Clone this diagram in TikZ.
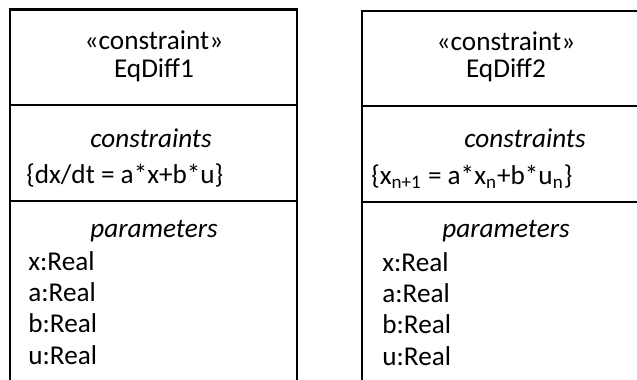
\documentclass[tikz,border=0pt]{standalone}
\usepackage{fontspec}
\setmainfont{Carlito}
\usetikzlibrary{positioning}
\newcommand{\umlfont}{\fontsize{13.6}{15.5}\selectfont}
\tikzset{
    frame/.style={
        draw=black,
        line width=1.1pt
    },
    headtext/.style={
        anchor=base,
        inner sep=0pt,
        font=\umlfont
    },
    comptitle/.style={
        headtext,
        font=\umlfont\itshape
    },
    entry/.style={
        anchor=base west,
        inner sep=0pt,
        font=\umlfont
    }
}

\begin{document}
\begin{tikzpicture}[x=0.5pt, y=-0.5pt]
\useasboundingbox (0,0) rectangle (637,380);

% 1. Left block (open at the bottom)
\draw[frame] (10,380) -- (10,9.5) -- (297,9.5) -- (297,380);
\draw[frame] (10,105) -- (297,105);
\draw[frame] (10,201) -- (297,201);
\node[headtext] (stereoA) at (154,49.5) {«constraint»};
\node[headtext] (nameA) at (154,77) {EqDiff1};
\node[comptitle] (consA) at (151,147) {constraints};
\node[entry] (eqA) at (26,183) {\{dx/dt = a*x+b*u\}};
\node[comptitle] (parA) at (154,237) {parameters};
\node[entry] (xA) at (28,270) {x:Real};
\node[entry] (aA) at (28,301) {a:Real};
\node[entry] (bA) at (28,332.5) {b:Real};
\node[entry] (uA) at (28,364) {u:Real};

% 2. Right block (cut off on the right)
\draw[frame] (362,380) -- (362,10.7) -- (637,10.7);
\draw[frame] (362,106) -- (637,106);
\draw[frame] (362,202) -- (637,202);
\node[headtext] (stereoB) at (506,50) {«constraint»};
\node[headtext] (nameB) at (506,77.5) {EqDiff2};
\node[comptitle] (consB) at (525,147) {constraints};
\node[entry] (eqB) at (371,184) {\{x\textsubscript{n+1} = a*x\textsubscript{n}+b*u\textsubscript{n}\}};
\node[comptitle] (parB) at (506,237) {parameters};
\node[entry] (xB) at (382,271) {x:Real};
\node[entry] (aB) at (382,302) {a:Real};
\node[entry] (bB) at (382,333.5) {b:Real};
\node[entry] (uB) at (382,365) {u:Real};

\end{tikzpicture}
\end{document}
